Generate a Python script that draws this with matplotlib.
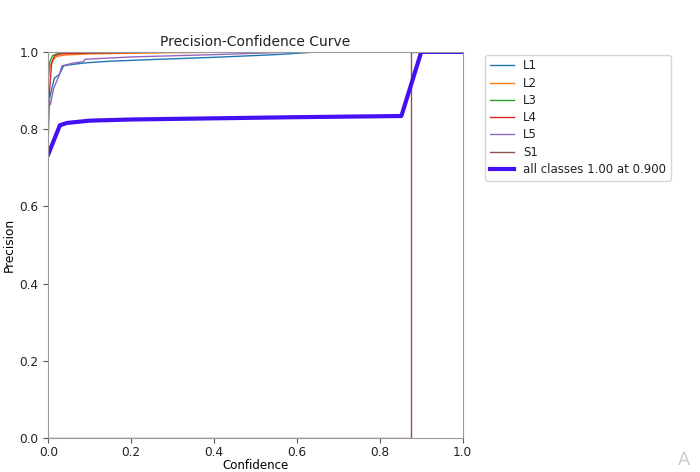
import matplotlib
matplotlib.use('Agg')
import matplotlib.pyplot as plt

# per-class precision-confidence curves
l1_x = [0, 0.005, 0.0145, 0.027, 0.037, 0.061, 0.093, 0.15, 0.27, 0.4, 0.55, 0.65, 1.0]
l1_y = [0.86, 0.889, 0.932, 0.942, 0.964, 0.968, 0.972, 0.976, 0.981, 0.986, 0.993, 1.0, 1.0]

l2_x = [0, 0.004, 0.01, 0.02, 0.04, 0.1, 0.3, 0.5, 1.0]
l2_y = [0.93, 0.96, 0.978, 0.988, 0.992, 0.995, 0.998, 1.0, 1.0]

l3_x = [0, 0.004, 0.01, 0.02, 0.05, 0.2, 0.4, 1.0]
l3_y = [0.95, 0.975, 0.99, 0.995, 0.997, 0.999, 1.0, 1.0]

l4_x = [0, 0.003, 0.008, 0.015, 0.03, 0.1, 0.3, 1.0]
l4_y = [0.78, 0.9, 0.97, 0.99, 0.995, 0.997, 1.0, 1.0]

l5_x = [0, 0.005, 0.013, 0.025, 0.033, 0.06, 0.085, 0.089, 0.2, 0.4, 0.6, 1.0]
l5_y = [0.89, 0.863, 0.906, 0.936, 0.964, 0.971, 0.975, 0.981, 0.987, 0.993, 1.0, 1.0]

s1_x = [0, 0.875, 0.875, 1.0]
s1_y = [0, 0, 1, 1]

all_x = [0, 0.028, 0.045, 0.1, 0.2, 0.4, 0.6, 0.852, 0.9, 1.0]
all_y = [0.735, 0.81, 0.816, 0.822, 0.825, 0.828, 0.831, 0.834, 1.0, 1.0]

names = ['L1', 'L2', 'L3', 'L4', 'L5', 'S1']
xs = [l1_x, l2_x, l3_x, l4_x, l5_x, s1_x]
ys = [l1_y, l2_y, l3_y, l4_y, l5_y, s1_y]

plt.rcParams['text.color'] = '#222222'
plt.rcParams['xtick.labelcolor'] = '#222222'
plt.rcParams['ytick.labelcolor'] = '#222222'

fig = plt.figure(figsize=(7, 4.72), dpi=100)
ax = fig.add_axes([0.069, 0.072, 0.592, 0.818])

for i in range(len(names)):
    ax.plot(xs[i], ys[i], linewidth=1, label=names[i], color='C%d' % i)

ax.plot(all_x, all_y, linewidth=3, color='#4410f2', label='all classes 1.00 at 0.900')

ax.set_xlim(0, 1)
ax.set_ylim(0, 1)
ax.set_xlabel('Confidence', fontsize=8.5, labelpad=0)
ax.set_ylabel('Precision', fontsize=8.7, labelpad=3)
ax.set_title('Precision-Confidence Curve', fontsize=10, pad=4)
ax.tick_params(labelsize=8.7, color='#555555')
ax.tick_params(axis='x', pad=2)
for s in ax.spines.values():
    s.set_color('#999999')
ax.legend(bbox_to_anchor=(1.04, 1.008), loc='upper left', fontsize=8.5, labelspacing=0.36)

fig.text(0.977, 0.015, 'A', fontsize=13, color='#cccccc', ha='center')

fig.savefig('out.png', dpi=100)
